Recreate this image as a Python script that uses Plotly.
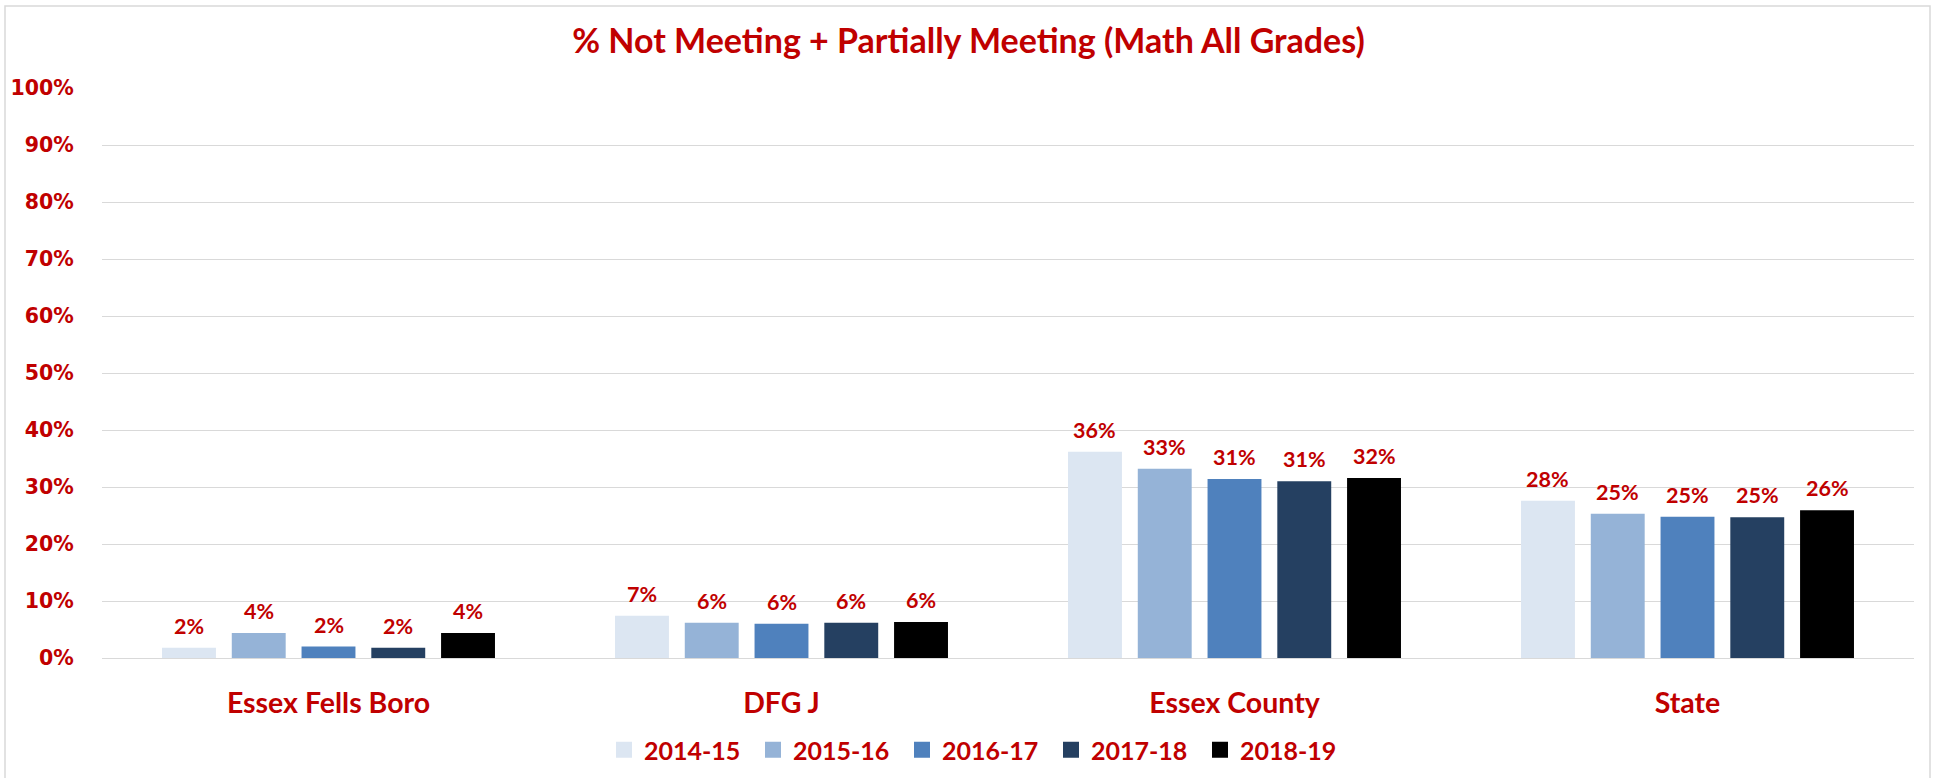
import plotly.graph_objects as go

# ---------------- data ----------------
categories = ["Essex Fells Boro", "DFG J", "Essex County", "State"]
years = ["2014-15", "2015-16", "2016-17", "2017-18", "2018-19"]
v_2014_15 = [1.8, 7.4, 36.2, 27.6]
v_2015_16 = [4.4, 6.2, 33.2, 25.3]
v_2016_17 = [2.0, 6.0, 31.4, 24.8]
v_2017_18 = [1.8, 6.2, 31.0, 24.7]
v_2018_19 = [4.4, 6.3, 31.6, 25.9]
y_tick_values = [0, 10, 20, 30, 40, 50, 60, 70, 80, 90, 100]
y_tick_labels = ["0%", "10%", "20%", "30%", "40%", "50%", "60%", "70%", "80%", "90%", "100%"]
title_text = "% Not Meeting + Partially Meeting (Math All Grades)"

series = [v_2014_15, v_2015_16, v_2016_17, v_2017_18, v_2018_19]
colors = ["#DCE6F2", "#95B3D7", "#4F81BD", "#254061", "#000000"]

RED = "#C00000"
W, H = 1934, 778
L, R, T, B = 102, 20, 88, 120
pw, ph = W - L - R, H - T - B

step = 0.154   # bar pitch inside a group (category units)
bw = 0.119     # bar width (category units)

fig = go.Figure()
annotations = []
for i, (name, vals, col) in enumerate(zip(years, series, colors)):
    off = (i - 2) * step
    fig.add_trace(go.Bar(
        name=name, x=categories, y=vals,
        marker=dict(color=col, line=dict(width=0)),
        offset=off - bw / 2, width=bw,
        hoverinfo="skip", showlegend=False,
    ))
    # legend entry with a larger square swatch
    fig.add_trace(go.Scatter(
        name=name, x=[None], y=[None], mode="markers",
        marker=dict(symbol="square", size=16, color=col),
        hoverinfo="skip", showlegend=True,
    ))
    for j, v in enumerate(vals):
        annotations.append(dict(
            x=j + off, y=v, xref="x", yref="y",
            text=f"{v:.0f}%", showarrow=False,
            yanchor="bottom", yshift=7,
            font=dict(family="Lato", size=21.5, color=RED, weight="bold"),
        ))

fig.update_layout(
    width=W, height=H,
    margin=dict(l=L, r=R, t=T, b=B, pad=0, autoexpand=False),
    paper_bgcolor="white", plot_bgcolor="white",
    barmode="group",
    title=dict(text=title_text, x=968.5 / W, xref="container", xanchor="center",
               y=1 - 41 / H, yref="container", yanchor="middle",
               font=dict(family="Lato", size=34, color=RED, weight="bold")),
    showlegend=True,
    legend=dict(orientation="h", x=(604 - L) / pw, xanchor="left",
                y=(H - B - 750) / ph, yanchor="middle",
                entrywidth=104, entrywidthmode="pixels",
                font=dict(family="Lato", size=25, color=RED, weight="bold"),
                bgcolor="rgba(0,0,0,0)", traceorder="normal"),
    annotations=annotations,
)
fig.update_xaxes(
    range=[-0.5, 3.5], showgrid=False, zeroline=False, showline=False,
    ticks="outside", ticklen=20, tickcolor="rgba(0,0,0,0)",
    tickfont=dict(family="Lato", size=28.5, color=RED, weight="bold"),
)
fig.update_yaxes(
    range=[0, 100], tickvals=y_tick_values, ticktext=y_tick_labels,
    showgrid=True, gridcolor="#D9D9D9", gridwidth=1.3,
    zeroline=True, zerolinecolor="#D9D9D9", zerolinewidth=1.3,
    showline=False, ticks="outside", ticklen=23, tickcolor="rgba(0,0,0,0)",
    tickfont=dict(family="DejaVu Sans", size=20.5, color=RED, weight="bold"),
)
# outer chart border (bottom edge lies below the visible page)
fig.add_shape(type="rect", xref="paper", yref="paper",
              x0=(5 - L) / pw, x1=(W - 4 - L) / pw,
              y0=(H - B - (H + 10)) / ph, y1=(H - B - 6) / ph,
              line=dict(color="#D9D9D9", width=1.5), fillcolor="rgba(0,0,0,0)",
              layer="below")

fig.write_html("out.html", config={"displayModeBar": False},
               post_script="document.body.style.margin='0';")
